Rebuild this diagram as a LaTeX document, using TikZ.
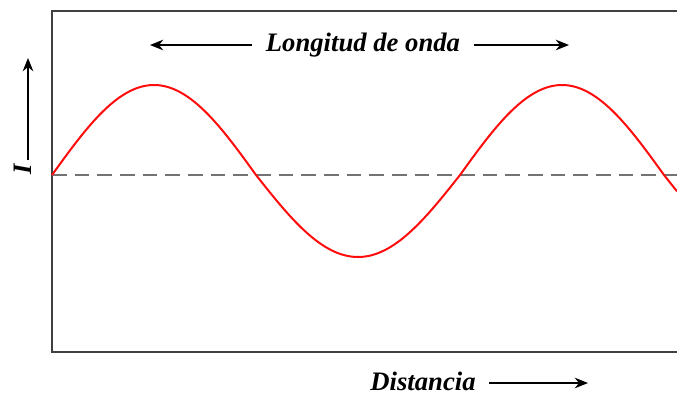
\documentclass[tikz,border=0pt]{standalone}
\usepackage{fontspec}
\setmainfont{Liberation Serif}
\usetikzlibrary{arrows.meta,positioning}

\begin{document}
\begin{tikzpicture}[
    x=0.75pt, y=-0.75pt,
    frame/.style={draw=black!75, line width=1.5pt},
    wave/.style={draw=red!95!white, line width=1.5pt},
    axisline/.style={draw=black!55, line width=1.3pt, dash pattern=on 11pt off 6pt},
    arr/.style={-{Stealth[length=10pt,width=8pt]}, line width=1pt},
    lbl/.style={font=\fontsize{20}{24}\selectfont\bfseries\itshape, inner sep=0pt}
]
\useasboundingbox (0,0) rectangle (677,394);

% marco
\draw[frame] (677,11) -- (52,11) -- (52,352) -- (677,352);

% eje central
\draw[axisline] (52,175) -- (677,175);

% onda
\draw[wave] plot[domain=52:677, samples=200, smooth]
    (\x, {175 - 86*sin((\x-52)/408*360) - 4*abs(sin((\x-52)/408*360))});

% longitud de onda
\node[lbl] (lon) at (363,45) {Longitud de onda};
\coordinate (lonL) at (150,45);
\coordinate (lonR) at (569,45);
\draw[arr] ([xshift=-10pt]lon.west) -- (lonL);
\draw[arr] ([xshift=10pt]lon.east) -- (lonR);

% intensidad
\node[lbl, rotate=90] (int) at (23,169) {I};
\coordinate (intB) at (28,160);
\coordinate (intT) at (28,58);
\draw[arr] (intB) -- (intT);

% distancia
\node[lbl] (dist) at (423,381) {Distancia};
\coordinate (distL) at (489,383);
\coordinate (distR) at (588,383);
\draw[arr] (distL) -- (distR);

\end{tikzpicture}
\end{document}
